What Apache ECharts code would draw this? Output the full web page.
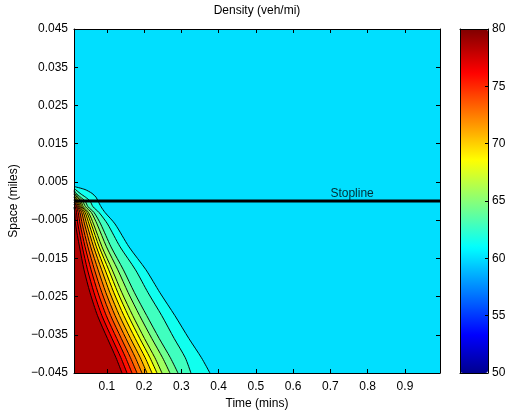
<!DOCTYPE html>
<html>
<head>
<meta charset="utf-8">
<script src="https://cdn.jsdelivr.net/npm/echarts@6/dist/echarts.min.js"></script>
<style>
  html, body { margin: 0; padding: 0; background: #fff; }
  #chart { width: 508px; height: 411px; }
</style>
</head>
<body>
<div id="chart"></div>
<script>
// Density field (veh/mi) over time (mins) and space (miles), drawn as filled contours.
const timeTicks = [0.1, 0.2, 0.3, 0.4, 0.5, 0.6, 0.7, 0.8, 0.9];
const spaceTicks = [-0.045, -0.035, -0.025, -0.015, -0.005, 0.005, 0.015, 0.025, 0.035, 0.045];
const densityTicks = [50, 55, 60, 65, 70, 75, 80];

// Density of the undisturbed upstream flow (fills the whole plane)
const baseDensity = 60;
// Contour levels, one per boundary line below
const contourLevels = [61.5, 62.9, 64.3, 65.7, 67.1, 68.5, 69.9, 71.3, 72.7, 74.1, 75.5, 76.9, 78.3];

// Contour lines as [time, space] pairs, each running from the left edge to the bottom edge
const density61_5 = [[0.012, 0.0038], [0.0416, 0.003], [0.0603, 0.002], [0.0710, 0.001], [0.0764, 0], [0.0845, -0.0015], [0.0952, -0.003], [0.1220, -0.006], [0.1595, -0.012], [0.2051, -0.018], [0.2426, -0.024], [0.2828, -0.030], [0.3204, -0.036], [0.3539, -0.041], [0.3767, -0.045]];
const density62_9 = [[0.012, 0.0034], [0.0161, 0.003], [0.0282, 0.002], [0.0429, 0.001], [0.0550, 0], [0.0630, -0.0015], [0.0791, -0.003], [0.1019, -0.006], [0.1357, -0.012], [0.1769, -0.018], [0.2107, -0.024], [0.2475, -0.030], [0.2810, -0.036], [0.3105, -0.041], [0.3257, -0.045]];
const density64_3 = [[0.012, 0.0029], [0.0174, 0.002], [0.0295, 0.001], [0.0416, 0], [0.0496, -0.0015], [0.0657, -0.003], [0.0834, -0.006], [0.1113, -0.012], [0.1445, -0.018], [0.1743, -0.024], [0.2072, -0.030], [0.2408, -0.036], [0.2705, -0.041], [0.2909, -0.045]];
const density65_7 = [[0.012, 0.0025], [0.0142, 0.002], [0.0241, 0.001], [0.0349, 0], [0.0429, -0.0015], [0.0584, -0.003], [0.0737, -0.006], [0.0992, -0.012], [0.1295, -0.018], [0.1574, -0.024], [0.1882, -0.030], [0.2209, -0.036], [0.2496, -0.041], [0.2694, -0.045]];
const density67_1 = [[0.012, 0.0021], [0.0201, 0.001], [0.0303, 0], [0.0370, -0.0015], [0.0509, -0.003], [0.0643, -0.006], [0.0871, -0.012], [0.1145, -0.018], [0.1405, -0.024], [0.1697, -0.030], [0.2013, -0.036], [0.2290, -0.041], [0.2480, -0.045]];
const density68_5 = [[0.012, 0.0017], [0.0161, 0.001], [0.0263, 0], [0.0335, -0.0015], [0.0464, -0.003], [0.0582, -0.006], [0.0796, -0.012], [0.1051, -0.018], [0.1298, -0.024], [0.1576, -0.030], [0.1887, -0.036], [0.2158, -0.041], [0.2346, -0.045]];
const density69_9 = [[0.012, 0.0013], [0.0228, 0], [0.0303, -0.0015], [0.0418, -0.003], [0.0523, -0.006], [0.0721, -0.012], [0.0954, -0.018], [0.1190, -0.024], [0.1458, -0.030], [0.1764, -0.036], [0.2029, -0.041], [0.2212, -0.045]];
const density71_3 = [[0.012, 0.0009], [0.0196, 0], [0.0273, -0.0015], [0.0373, -0.003], [0.0461, -0.006], [0.0646, -0.012], [0.0861, -0.018], [0.1083, -0.024], [0.1340, -0.030], [0.1638, -0.036], [0.1898, -0.041], [0.2078, -0.045]];
const density72_7 = [[0.012, 0.0005], [0.0161, 0], [0.0244, -0.0015], [0.0327, -0.003], [0.0402, -0.006], [0.0568, -0.012], [0.0767, -0.018], [0.0976, -0.024], [0.1223, -0.030], [0.1515, -0.036], [0.1767, -0.041], [0.1944, -0.045]];
const density74_1 = [[0.012, 0.0001], [0.0214, -0.0015], [0.0279, -0.003], [0.0340, -0.006], [0.0493, -0.012], [0.0670, -0.018], [0.0869, -0.024], [0.1105, -0.030], [0.1391, -0.036], [0.1635, -0.041], [0.1810, -0.045]];
const density75_5 = [[0.012, -0.0003], [0.0188, -0.0015], [0.0233, -0.003], [0.0282, -0.006], [0.0418, -0.012], [0.0579, -0.018], [0.0764, -0.024], [0.0987, -0.030], [0.1268, -0.036], [0.1507, -0.041], [0.1676, -0.045]];
const density76_9 = [[0.012, -0.0009], [0.0153, -0.0015], [0.0188, -0.003], [0.0223, -0.006], [0.0343, -0.012], [0.0483, -0.018], [0.0657, -0.024], [0.0869, -0.030], [0.1142, -0.036], [0.1378, -0.041], [0.1542, -0.045]];
const density78_3 = [[0.012, -0.0016], [0.0142, -0.003], [0.0161, -0.006], [0.0268, -0.012], [0.0389, -0.018], [0.0550, -0.024], [0.0751, -0.030], [0.1019, -0.036], [0.1247, -0.041], [0.1408, -0.045]];

const contourLines = [density61_5, density62_9, density64_3, density65_7, density67_1, density68_5,
  density69_9, density71_3, density72_7, density74_1, density75_5, density76_9, density78_3];

// Stop line location and its label
const stoplineSpace = 0;
const stoplineLabel = { time: 0.7, space: 0.002, text: 'Stopline' };

const timeRange = [0.012, 0.994];
const spaceRange = [-0.045, 0.045];
const densityRange = [50, 80];

// 64-entry jet colormap
function jetRow(i) {
  const part = (j) => (j < 1 || j > 47) ? 0 : (j <= 16 ? j / 16 : (j <= 31 ? 1 : (16 - (j - 32)) / 16));
  const c = (v) => Math.round(v * 255);
  return 'rgb(' + c(part(i - 24)) + ',' + c(part(i - 8)) + ',' + c(part(i + 8)) + ')';
}
const jetColors = [];
for (let i = 1; i <= 64; i++) jetColors.push(jetRow(i));
function densityColor(v) {
  const idx = Math.max(1, Math.min(64, Math.floor((v - densityRange[0]) / (densityRange[1] - densityRange[0]) * 64) + 1));
  return jetColors[idx - 1];
}

const FONT = 'Liberation Sans, Arial, Helvetica, sans-serif';
const txt = { color: '#000', fontFamily: FONT, fontSize: 12 };
const fmtSpace = (v) => (v < 0 ? '\u2212' : '') + Math.abs(v).toFixed(3);

const chart = echarts.init(document.getElementById('chart'), null, { renderer: 'canvas' });

const bandSeries = contourLines.map((line, k) => ({
  type: 'line',
  xAxisIndex: 0,
  yAxisIndex: 0,
  data: line,
  symbol: 'none',
  smooth: 0.25,
  clip: true,
  silent: true,
  lineStyle: { color: '#000', width: 0.95 },
  areaStyle: { color: densityColor(contourLevels[k]), opacity: 1, origin: 'start' },
  z: 2
}));

const frameAxis = (extra) => Object.assign({
  type: 'value',
  z: 10,
  axisLine: { show: true, onZero: false, lineStyle: { color: '#000', width: 1 } },
  splitLine: { show: false },
  axisLabel: { show: false },
  axisTick: { show: false }
}, extra);

chart.setOption({
  animation: false,
  backgroundColor: '#fff',
  graphic: [{
    type: 'text',
    x: 257,
    y: 11,
    style: { text: 'Density (veh/mi)', fill: '#000', font: '12px ' + FONT, textAlign: 'center', textVerticalAlign: 'middle' }
  }],
  grid: [
    { left: 74, top: 29, width: 366, height: 344, show: true, backgroundColor: densityColor(baseDensity), borderWidth: 0, outerBoundsMode: 'none', containLabel: false },
    { left: 460, top: 29, width: 28, height: 344, show: false, outerBoundsMode: 'none', containLabel: false }
  ],
  visualMap: {
    type: 'continuous',
    min: densityRange[0],
    max: densityRange[1],
    seriesIndex: [],
    calculable: false,
    hoverLink: false,
    orient: 'vertical',
    left: 460,
    top: 29,
    padding: 0,
    itemWidth: 28,
    itemHeight: 344,
    inRange: { color: jetColors }
  },
  xAxis: [
    frameAxis({
      gridIndex: 0, position: 'bottom', min: timeRange[0], max: timeRange[1],
      name: 'Time (mins)', nameLocation: 'middle', nameGap: 21, nameTextStyle: txt,
      axisLabel: Object.assign({ show: true, margin: 8, customValues: timeTicks, formatter: (v) => v.toFixed(1) }, txt),
      axisTick: { show: true, inside: true, length: 4, customValues: timeTicks, lineStyle: { color: '#000' } }
    }),
    frameAxis({
      gridIndex: 0, position: 'top', min: timeRange[0], max: timeRange[1],
      axisTick: { show: true, inside: true, length: 4, customValues: timeTicks, lineStyle: { color: '#000' } }
    }),
    frameAxis({ gridIndex: 1, position: 'bottom', min: 0, max: 1 }),
    frameAxis({ gridIndex: 1, position: 'top', min: 0, max: 1 })
  ],
  yAxis: [
    frameAxis({
      gridIndex: 0, position: 'left', min: spaceRange[0], max: spaceRange[1],
      name: 'Space (miles)', nameLocation: 'middle', nameGap: 46, nameTextStyle: txt,
      axisLabel: Object.assign({ show: true, margin: 6, customValues: spaceTicks, formatter: fmtSpace }, txt),
      axisTick: { show: true, inside: true, length: 4, customValues: spaceTicks, lineStyle: { color: '#000' } }
    }),
    frameAxis({
      gridIndex: 0, position: 'right', min: spaceRange[0], max: spaceRange[1],
      axisTick: { show: true, inside: true, length: 4, customValues: spaceTicks, lineStyle: { color: '#000' } }
    }),
    frameAxis({ gridIndex: 1, position: 'left', min: densityRange[0], max: densityRange[1] }),
    frameAxis({
      gridIndex: 1, position: 'right', min: densityRange[0], max: densityRange[1], interval: 5,
      axisLabel: Object.assign({ show: true, margin: 4, customValues: densityTicks }, txt),
      axisTick: { show: true, inside: true, length: 3, customValues: densityTicks, lineStyle: { color: '#000' } }
    })
  ],
  series: bandSeries.concat([
    {
      type: 'line',
      xAxisIndex: 0,
      yAxisIndex: 0,
      data: [[timeRange[0], stoplineSpace], [timeRange[1], stoplineSpace]],
      symbol: 'none',
      silent: true,
      lineStyle: { color: '#000', width: 2.8 },
      z: 5
    },
    {
      type: 'scatter',
      xAxisIndex: 0,
      yAxisIndex: 0,
      data: [[stoplineLabel.time, stoplineLabel.space]],
      symbolSize: 0,
      silent: true,
      label: Object.assign({ show: true, position: 'right', distance: 0, formatter: stoplineLabel.text }, txt),
      z: 6
    }
  ])
});
</script>
</body>
</html>
